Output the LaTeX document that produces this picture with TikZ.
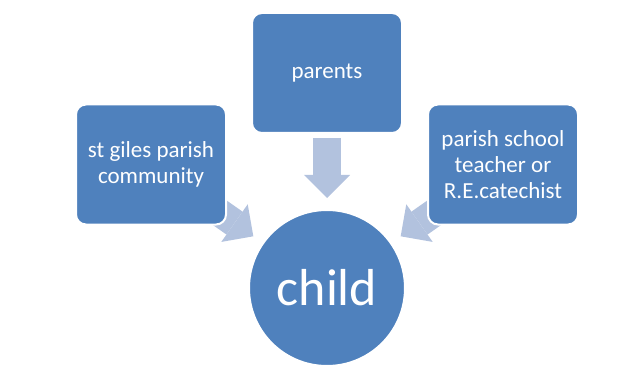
\documentclass[tikz,border=0pt]{standalone}
\usepackage{fontspec}
\setmainfont{Carlito}
\usetikzlibrary{arrows.meta,backgrounds}
\definecolor{boxblue}{RGB}{79,129,189}
\definecolor{feedblue}{RGB}{178,194,222}
\tikzset{
  box/.style={draw=white, line width=2pt, fill=boxblue, rounded corners=10pt,
    minimum width=150pt, minimum height=120pt, align=center, text=white,
    font=\fontsize{23}{26}\selectfont},
  hub/.style={circle, draw=white, line width=2pt, fill=boxblue, minimum size=156pt,
    text=white, font=\fontsize{52}{60}\selectfont},
  feed/.style={draw=feedblue, line width=28pt,
    -{Triangle[width=46pt,length=23pt,line width=0pt]}}
}
\begin{document}
\begin{tikzpicture}[x=1pt,y=1pt]
      \useasboundingbox (0,0) rectangle (637,370);
      \draw
        (327,297) node[box] (parents){parents}
        (151,205.5) node[box] (community){st giles parish\\community}
        (503,205.5) node[box] (teacher){parish school\\teacher or\\R.E.catechist}
        (327,82) node[hub] (child){child};
      \begin{scope}[on background layer]
        \draw[feed, shorten <=4pt, shorten >=11pt] (parents.south) to (child.north);
        \draw[feed, shorten <=65pt, shorten >=90pt] (community.center) to (child.center);
        \draw[feed, shorten <=65pt, shorten >=90pt] (teacher.center) to (child.center);
      \end{scope}
    \end{tikzpicture}
\end{document}
